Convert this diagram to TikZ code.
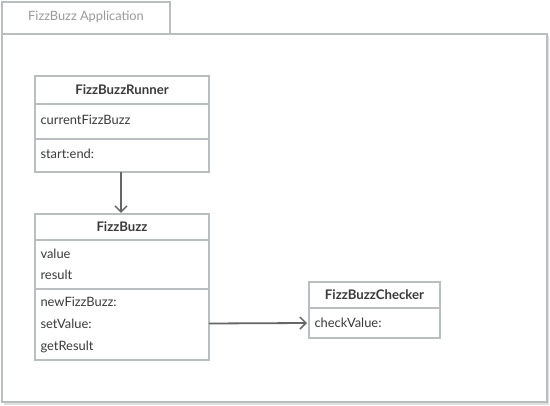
\documentclass[tikz,border=0pt]{standalone}
\usepackage{fontspec}
\setmainfont{Lato}
\usetikzlibrary{arrows.meta}
\definecolor{bordergray}{HTML}{BBBEC0}
\definecolor{textgray}{HTML}{3A3A3A}
\definecolor{tabgray}{HTML}{999999}
\definecolor{arrowgray}{HTML}{666666}
\begin{document}
\begin{tikzpicture}[x=1pt,y=-1pt,
  boxline/.style={draw=bordergray,line width=2pt},
  title/.style={font=\fontsize{13.2}{15}\selectfont\bfseries,text=textgray,anchor=center},
  member/.style={font=\fontsize{12.9}{15}\selectfont,text=textgray,anchor=west},
  conn/.style={draw=arrowgray,line width=1.8pt,-{Straight Barb[length=6pt,width=12pt,line width=1.5pt]}}]
\useasboundingbox (0,0) rectangle (550,406);
\fill[white] (0,0) rectangle (550,406);
% frame
\fill[black!12] (4,36) rectangle (549,405);
\draw[boxline,fill=white] (2,34) rectangle (547,402);
\draw[boxline,fill=white] (2,2) rectangle (170,34);
\node[font=\fontsize{12.8}{15}\selectfont,text=tabgray] (tab) at (86,17) {FizzBuzz Application};
% FizzBuzzRunner
\draw[boxline,fill=white] (35,76) rectangle (209,172);
\draw[boxline] (35,104) -- (209,104);
\draw[boxline] (35,139) -- (209,139);
\node[title] (runnerT) at (122,90) {FizzBuzzRunner};
\node[member] (r1) at (37,120) {currentFizzBuzz};
\node[member] (r2) at (37,154) {start:end:};
\coordinate (runnerB) at (121,172);
% FizzBuzz
\draw[boxline,fill=white] (35,214) rectangle (209,360);
\draw[boxline] (35,240) -- (209,240);
\draw[boxline] (35,289) -- (209,289);
\node[title] (fbT) at (122,227) {FizzBuzz};
\node[member] (f1) at (37,254) {value};
\node[member] (f2) at (37,275) {result};
\node[member] (f3) at (37,302) {newFizzBuzz:};
\node[member] (f4) at (37,324) {setValue:};
\node[member] (f5) at (37,347) {getResult};
\coordinate (fbTop) at (121,213);
\coordinate (fbR) at (209,323.5);
% FizzBuzzChecker
\draw[boxline,fill=white] (309,282) rectangle (440,338);
\draw[boxline] (309,308) -- (440,308);
\node[title] (chT) at (374.5,295) {FizzBuzzChecker};
\node[member] (c1) at (311,323) {checkValue:};
\coordinate (chL) at (307,323);
% connectors
\draw[conn] (runnerB) -- (fbTop);
\draw[conn] (fbR) -- (chL);
\end{tikzpicture}
\end{document}
